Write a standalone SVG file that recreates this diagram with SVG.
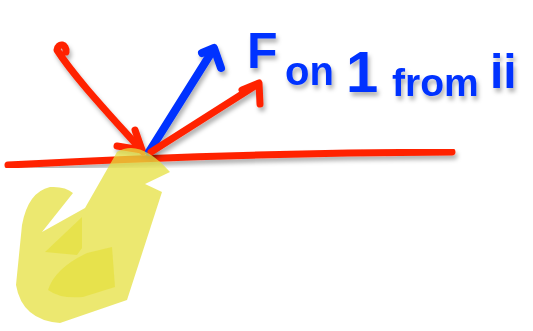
<svg xmlns="http://www.w3.org/2000/svg" width="533" height="331" viewBox="0 0 533 331">
<defs>
<filter id="sh" x="-20%" y="-20%" width="140%" height="140%">
<feDropShadow dx="2" dy="4" stdDeviation="2" flood-color="#000" flood-opacity="0.3"/>
</filter>
<style>
.red{fill:none;stroke:#ff2200;stroke-width:7;stroke-linecap:round;stroke-linejoin:round}
.blue{fill:none;stroke:#0033ff;stroke-width:8;stroke-linecap:round;stroke-linejoin:round}
.hl{fill:#e6e040;fill-opacity:0.75}
.txt{fill:#0033ff;font-family:"Liberation Sans",Arial,sans-serif;font-weight:bold}
</style>
</defs>
<rect width="533" height="331" fill="#ffffff"/>
<g id="surface" filter="url(#sh)">
<path class="red" d="M8,165 C100,160 250,153 452,152"/>
</g>
<g id="incident" filter="url(#sh)">
<path class="red" d="M66,52 C67,44 58,42 57,50 C75,78 110,115 143,152"/>
<path class="red" d="M117,146 L142,150 M135,130 L142,150"/>
</g>
<g id="force" filter="url(#sh)">
<path class="blue" d="M149,152 L213,50"/>
<path class="blue" d="M202,53 L214,48 L221,68"/>
</g>
<g id="reflected" filter="url(#sh)">
<path class="red" d="M151,152 L258,84"/>
<path class="red" d="M242,90 L259,83 L260,104"/>
</g>
<g id="label" filter="url(#sh)">
<text class="txt" x="247" y="68" font-size="50">F</text>
<text class="txt" x="285" y="85" font-size="40">on</text>
<text class="txt" x="346" y="92" font-size="58">1</text>
<text class="txt" x="392" y="96" font-size="39">from</text>
<text class="txt" x="490" y="88" font-size="48">ii</text>
</g>
<g id="highlight">
<path class="hl" d="M117,152 Q140,138 170,172 L145,184 L162,192 L127,300 L60,323 Q22,320 16,285 L22,225 Q28,192 50,187 Q65,186 73,193 L42,232 L85,208 Z"/>
<path class="hl" d="M45,252 L82,217 L82,248 L77,255 Z"/>
<path class="hl" d="M48,290 Q55,268 87,253 L112,247 L115,287 L83,297 Q60,299 48,290 Z"/>
</g>
</svg>
